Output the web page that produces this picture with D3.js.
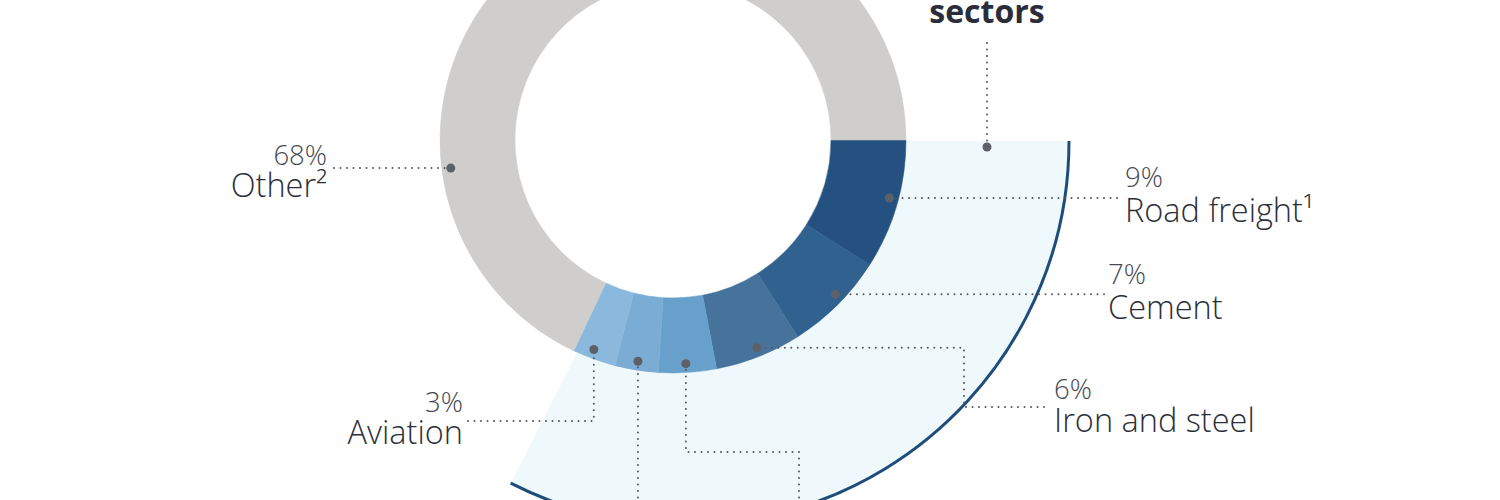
<!DOCTYPE html>
<html>
<head>
<meta charset="utf-8">
<script src="https://cdn.jsdelivr.net/npm/d3@7"></script>
<style>
  html, body { margin: 0; padding: 0; background: #ffffff; }
  svg { display: block; }
  text { font-family: "Open Sans", "Noto Sans", sans-serif; }
</style>
</head>
<body>
<svg id="chart" width="1500" height="500"></svg>
<script>
// ---- data ----
const categories = ["Road freight\u00B9", "Cement", "Iron and steel", "Chemicals", "Shipping", "Aviation", "Other\u00B2"];
const shares = [9, 7, 6, 4, 3, 3, 68];
const percentLabels = ["9%", "7%", "6%", "4%", "3%", "3%", "68%"];
const groupTitle = "sectors";

// ---- styles / layout ----
const sliceColors = ["#24517f", "#30618f", "#45739b", "#67a1cb", "#7badd4", "#8ab9dd", "#cfcecd"];
const cx = 673, cy = 140, rIn = 158, rOut = 233;
const deg = Math.PI / 180;

const svg = d3.select("#chart");

const pie = d3.pie().sort(null).value(d => d)
  .startAngle(90 * deg).endAngle(450 * deg);
const arcs = pie(shares);

// highlight wedge (hard-to-abate sectors)
const wedgeCx = 685, wedgeCy = 141, wedgeR = 384;
const wedgeStart = arcs[0].startAngle;
const wedgeEnd = 207 * deg;
const wedgeG = svg.append("g").attr("transform", `translate(${wedgeCx},${wedgeCy})`);
wedgeG.append("path")
  .attr("d", d3.arc()({innerRadius: 0, outerRadius: wedgeR, startAngle: wedgeStart, endAngle: wedgeEnd}))
  .attr("fill", "#eff8fb");
const outerArc = d3.path();
outerArc.arc(0, 0, wedgeR, wedgeStart - Math.PI / 2, wedgeEnd - Math.PI / 2);
wedgeG.append("path")
  .attr("d", outerArc.toString())
  .attr("fill", "none")
  .attr("stroke", "#1e4d7b")
  .attr("stroke-width", 3);

// donut
const g = svg.append("g").attr("transform", `translate(${cx},${cy})`);
g.append("circle").attr("r", rIn).attr("fill", "#ffffff");
const arcGen = d3.arc().innerRadius(rIn).outerRadius(rOut);
g.selectAll("path.slice").data(arcs).join("path")
  .attr("class", "slice")
  .attr("d", arcGen)
  .attr("fill", (d, i) => sliceColors[i])
  .attr("stroke", (d, i) => sliceColors[i])
  .attr("stroke-width", 0.5);

// ---- leader lines & labels ----
const dotR = 224;
const dotAngles = [105, 133.5, 158, 176.7, 189, 200.7, 262.8]; // degrees, clockwise from 12 o'clock
function dotPos(i) {
  const a = dotAngles[i] * deg;
  return [cx + dotR * Math.sin(a), cy - dotR * Math.cos(a)];
}

const leaderColor = "#55575f";
const dotted = sel => sel.attr("fill", "none").attr("stroke", leaderColor)
  .attr("stroke-width", 2).attr("stroke-linecap", "round").attr("stroke-dasharray", "0 6.5");

// routes (relative to the dot) and label anchors
const routes = [
  { pts: p => [p, [1117, p[1]]], lx: 1125, ly: null, pdy: -11, ndy: 24, anchor: "start" },
  { pts: p => [p, [1104, p[1]]], lx: 1108, ly: null, pdy: -10, ndy: 25, anchor: "start" },
  { pts: p => [p, [964, p[1]], [964, 407], [1044, 407]], lx: 1054, ly: 407, pdy: -8, ndy: 25, anchor: "start" },
  { pts: p => [p, [p[0], 452], [799, 452], [799, 530]], lx: null },
  { pts: p => [p, [p[0], 530]], lx: null },
  { pts: p => [p, [p[0], 421], [468, 421]], lx: 463, ly: 421, pdy: -9, ndy: 23, anchor: "end" },
  { pts: p => [p, [334, p[1]]], lx: 327, ly: null, pdy: -3, ndy: 29, anchor: "end" }
];

const lineGen = d3.line();
routes.forEach((r, i) => {
  const p = dotPos(i);
  const pts = r.pts(p);
  svg.append("path").attr("d", lineGen(pts.slice().reverse())).call(dotted);
  svg.append("circle").attr("cx", p[0]).attr("cy", p[1]).attr("r", 4.5).attr("fill", "#5e6067");
  if (r.lx !== null) {
    const ly = r.ly !== null ? r.ly : p[1];
    svg.append("text")
      .attr("x", r.lx).attr("y", ly + r.pdy)
      .attr("text-anchor", r.anchor)
      .attr("font-size", 27.5).attr("font-weight", 300)
      .attr("fill", "#474a53")
      .text(percentLabels[i]);
    svg.append("text")
      .attr("x", r.lx).attr("y", ly + r.ndy)
      .attr("text-anchor", r.anchor)
      .attr("font-size", 32.5).attr("font-weight", 300)
      .attr("fill", "#2c2f38")
      .text(categories[i]);
  }
});

// group title leader
svg.append("path").attr("d", lineGen([[987, 147], [987, 38]])).call(dotted);
svg.append("circle").attr("cx", 987).attr("cy", 147).attr("r", 4.5).attr("fill", "#5e6067");
svg.append("text")
  .attr("x", 987).attr("y", 23)
  .attr("text-anchor", "middle")
  .attr("font-size", 32).attr("font-weight", 700)
  .attr("fill", "#2b2e3a")
  .text(groupTitle);
</script>
</body>
</html>
